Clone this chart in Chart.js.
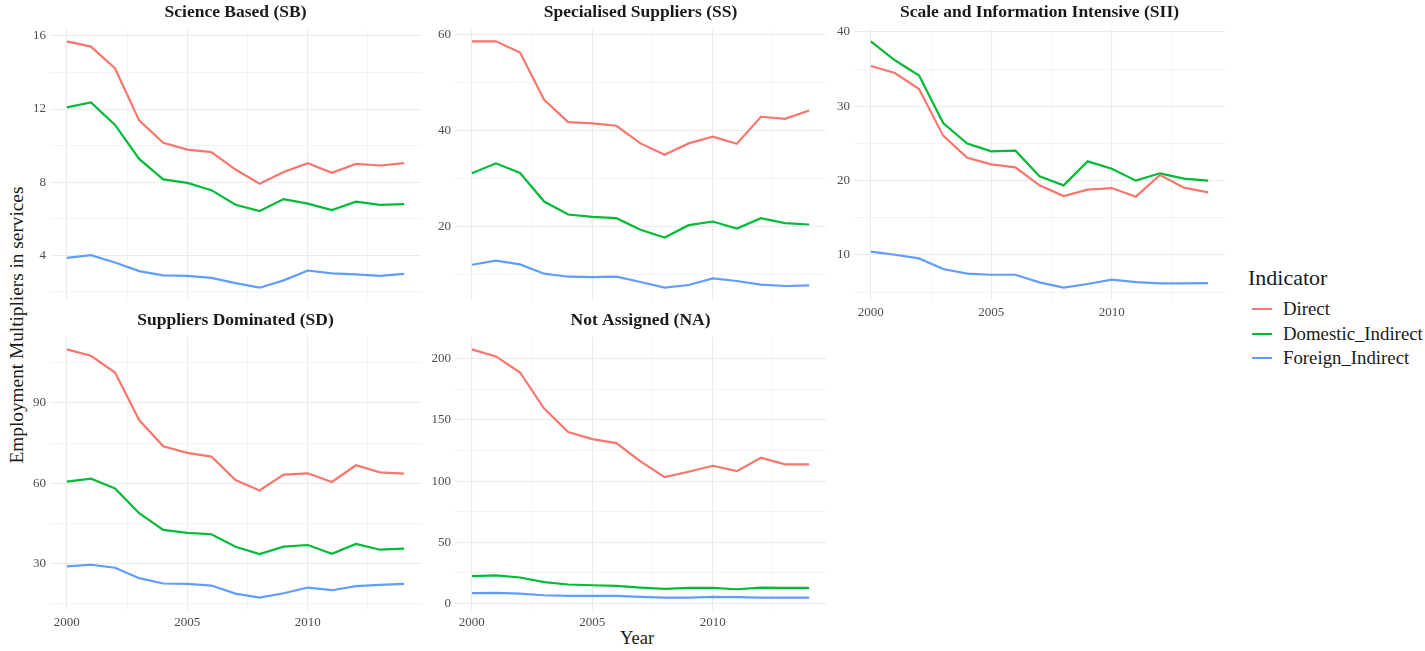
<!DOCTYPE html>
<html>
<head>
<meta charset="utf-8">
<script src="https://cdn.jsdelivr.net/npm/chart.js@4.4.1/dist/chart.umd.min.js"></script>
<style>
  body { margin: 0; background: #fff; width: 1425px; height: 651px; position: relative; overflow: hidden; font-family: "Liberation Serif", serif; color: #1a1a1a; }
  canvas.panel { position: absolute; }
  .ytitle { position: absolute; left: 17px; top: 325px; transform: translate(-50%, -50%) rotate(-90deg); font-size: 19.3px; white-space: nowrap; }
  .xtitle { position: absolute; left: 637px; top: 638px; transform: translate(-50%, -50%); font-size: 18.5px; }
  .legend { position: absolute; left: 1248px; top: 265px; }
  .legend .ttl { font-size: 22px; line-height: 26px; margin-bottom: 6px; }
  .legend .item { display: flex; align-items: center; height: 24.5px; font-size: 18.8px; }
  .legend .key { width: 20px; height: 2.2px; margin: 0 11px 0 4px; }
</style>
</head>
<body>
<div class="ytitle">Employment Multipliers in services</div>
<div class="xtitle">Year</div>
<div class="legend" id="legend"></div>

<script>
// data
const years = [2000, 2001, 2002, 2003, 2004, 2005, 2006, 2007, 2008, 2009, 2010, 2011, 2012, 2013, 2014];
const indicators = ["Direct", "Domestic_Indirect", "Foreign_Indirect"];
const colors = ["#F8766D", "#00BA38", "#619CFF"];

const sbDirect   = [15.71, 15.42, 14.22, 11.38, 10.15, 9.78, 9.64, 8.69, 7.91, 8.55, 9.04, 8.51, 9.00, 8.91, 9.04];
const sbDomestic = [12.09, 12.36, 11.13, 9.27, 8.15, 7.96, 7.56, 6.76, 6.42, 7.07, 6.82, 6.47, 6.93, 6.75, 6.80];
const sbForeign  = [3.85, 4.00, 3.60, 3.13, 2.89, 2.87, 2.76, 2.47, 2.22, 2.62, 3.16, 3.00, 2.95, 2.87, 2.98];

const ssDirect   = [58.68, 58.68, 56.32, 46.46, 41.81, 41.53, 41.04, 37.36, 35.00, 37.36, 38.75, 37.29, 42.92, 42.50, 44.24];
const ssDomestic = [31.11, 33.19, 31.18, 25.21, 22.50, 22.01, 21.74, 19.31, 17.71, 20.28, 21.04, 19.58, 21.74, 20.69, 20.42];
const ssForeign  = [12.01, 12.85, 12.08, 10.14, 9.51, 9.44, 9.51, 8.40, 7.22, 7.78, 9.17, 8.61, 7.85, 7.57, 7.71];

const siiDirect   = [35.43, 34.48, 32.33, 26.05, 23.09, 22.20, 21.79, 19.37, 17.94, 18.79, 19.01, 17.85, 20.76, 19.06, 18.43];
const siiDomestic = [38.74, 36.19, 34.13, 27.76, 24.98, 23.95, 24.04, 20.58, 19.37, 22.60, 21.61, 20.00, 20.99, 20.27, 20.00];
const siiForeign  = [10.45, 10.04, 9.55, 8.12, 7.49, 7.35, 7.35, 6.32, 5.61, 6.10, 6.68, 6.37, 6.19, 6.19, 6.23];

const sdDirect   = [110.05, 107.67, 101.4, 83.6, 73.83, 71.33, 69.95, 61.18, 57.29, 63.18, 63.68, 60.43, 66.69, 64.06, 63.56];
const sdDomestic = [60.55, 61.68, 58.05, 48.77, 42.51, 41.38, 40.88, 36.24, 33.48, 36.24, 36.87, 33.61, 37.24, 35.11, 35.49];
const sdForeign  = [28.85, 29.47, 28.35, 24.46, 22.46, 22.33, 21.70, 18.70, 17.19, 18.82, 20.95, 19.95, 21.45, 21.95, 22.33];

const naDirect   = [207.65, 201.9, 188.8, 159.3, 140.2, 134.4, 131.1, 116.1, 103.3, 107.7, 112.6, 108.2, 119.1, 113.7, 113.7];
const naDomestic = [22.4, 23.0, 21.3, 17.5, 15.6, 15.0, 14.5, 13.1, 12.0, 12.8, 12.8, 11.7, 13.1, 12.8, 12.8];
const naForeign  = [8.5, 8.7, 8.2, 6.8, 6.3, 6.3, 6.3, 5.5, 4.9, 4.9, 5.5, 5.2, 4.9, 4.9, 4.9];

// y tick labels (major) per panel; minor grid halfway between
const sbTicks  = [4, 8, 12, 16];
const ssTicks  = [20, 40, 60];
const siiTicks = [10, 20, 30, 40];
const sdTicks  = [30, 60, 90];
const naTicks  = [0, 50, 100, 150, 200];
const xTicks   = [2000, 2005, 2010];

const FONT = "'Liberation Serif', serif";
const AXIS_W = 40, TITLE_H = 28, XAX_H = 26;

const panels = [
  { title: "Science Based (SB)", series: [sbDirect, sbDomestic, sbForeign], ticks: sbTicks, left: 50, top: 29, w: 371, h: 271, showX: false },
  { title: "Specialised Suppliers (SS)", series: [ssDirect, ssDomestic, ssForeign], ticks: ssTicks, left: 455, top: 29, w: 371, h: 271, showX: false },
  { title: "Scale and Information Intensive (SII)", series: [siiDirect, siiDomestic, siiForeign], ticks: siiTicks, left: 854, top: 29, w: 371, h: 271, showX: true },
  { title: "Suppliers Dominated (SD)", series: [sdDirect, sdDomestic, sdForeign], ticks: sdTicks, left: 50, top: 337, w: 371, h: 273, showX: true },
  { title: "Not Assigned (NA)", series: [naDirect, naDomestic, naForeign], ticks: naTicks, left: 455, top: 337, w: 371, h: 273, showX: true }
];

function isIn(list, v) {
  return list.some(t => Math.abs(t - v) < 1e-6);
}

panels.forEach(p => {
  const canvas = document.createElement("canvas");
  canvas.className = "panel";
  canvas.width = AXIS_W * 2 + p.w;
  canvas.height = TITLE_H + p.h + XAX_H;
  canvas.style.left = (p.left - AXIS_W) + "px";
  canvas.style.top = (p.top - TITLE_H) + "px";
  document.body.appendChild(canvas);

  // ggplot-style 5% expansion
  const all = p.series.flat();
  const lo = Math.min(...all), hi = Math.max(...all);
  const pad = (hi - lo) * 0.05;
  const minorStep = (p.ticks[1] - p.ticks[0]) / 2;

  new Chart(canvas.getContext("2d"), {
    type: "line",
    data: {
      datasets: p.series.map((vals, i) => ({
        label: indicators[i],
        data: years.map((yr, j) => ({ x: yr, y: vals[j] })),
        borderColor: colors[i],
        borderWidth: 2.2,
        pointRadius: 0,
        fill: false,
        tension: 0
      }))
    },
    options: {
      responsive: false,
      animation: false,
      layout: { padding: 0 },
      plugins: {
        legend: { display: false },
        tooltip: { enabled: false },
        title: {
          display: true,
          text: p.title,
          color: "#1a1a1a",
          font: { family: FONT, size: 17.5, weight: "bold", lineHeight: 1.2 },
          padding: { top: 1, bottom: 6 }
        }
      },
      scales: {
        x: {
          type: "linear",
          min: 1999.3,
          max: 2014.7,
          afterFit: s => { s.height = XAX_H; },
          border: { display: false },
          grid: {
            color: "#EBEBEB",
            drawTicks: false,
            lineWidth: c => isIn(xTicks, c.tick.value) ? 1.1 : 0.55
          },
          ticks: {
            display: p.showX,
            stepSize: 2.5,
            includeBounds: false,
            autoSkip: false,
            maxRotation: 0,
            padding: 5,
            color: "#4D4D4D",
            font: { family: FONT, size: 13 },
            callback: v => isIn(xTicks, v) ? String(v) : ""
          }
        },
        y: {
          min: lo - pad,
          max: hi + pad,
          afterFit: s => { s.width = AXIS_W; },
          border: { display: false },
          grid: {
            color: "#EBEBEB",
            drawTicks: false,
            lineWidth: c => isIn(p.ticks, c.tick.value) ? 1.1 : 0.55
          },
          ticks: {
            stepSize: minorStep,
            includeBounds: false,
            autoSkip: false,
            padding: 4,
            color: "#4D4D4D",
            font: { family: FONT, size: 13 },
            callback: v => isIn(p.ticks, v) ? String(v) : ""
          }
        },
        // empty right-hand spacer so the panel title centres over the plot
        yRight: {
          position: "right",
          afterFit: s => { s.width = AXIS_W; },
          border: { display: false },
          grid: { display: false },
          ticks: { display: false }
        }
      }
    }
  });
});

// legend
const legend = document.getElementById("legend");
legend.innerHTML = '<div class="ttl">Indicator</div>' + indicators.map((name, i) =>
  '<div class="item"><span class="key" style="background:' + colors[i] + '"></span>' + name + '</div>'
).join("");
</script>
</body>
</html>
